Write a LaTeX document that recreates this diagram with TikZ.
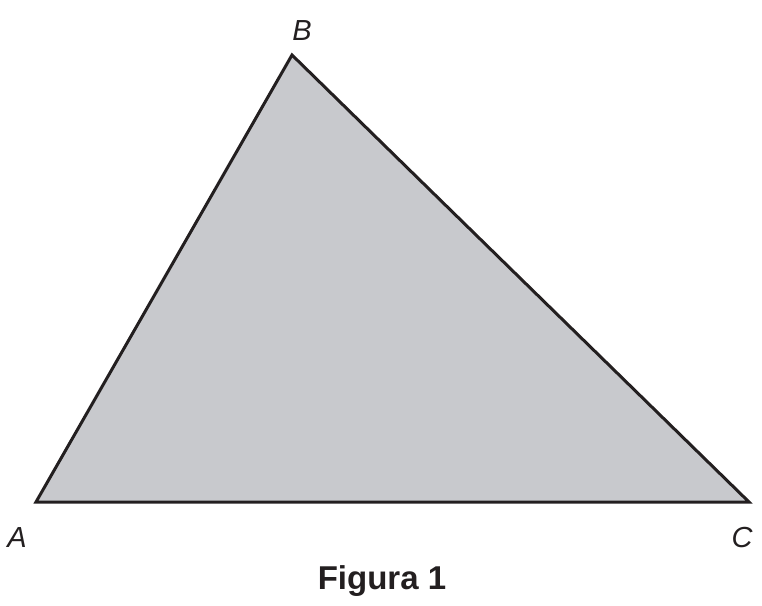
\documentclass[tikz,border=0pt]{standalone}
\usepackage{fontspec}
\setmainfont{Liberation Sans}
\definecolor{trifill}{RGB}{200,201,205}
\definecolor{ink}{RGB}{35,31,32}
\begin{document}
\begin{tikzpicture}[x=1pt,y=-1pt,
  vlabel/.style={font=\fontsize{29}{31}\selectfont\itshape,text=ink,inner sep=0pt,anchor=base},
  caption/.style={font=\fontsize{33}{35}\selectfont\bfseries,text=ink,inner sep=0pt,anchor=base}]
\useasboundingbox (0,0) rectangle (762,605);
\coordinate (A) at (36,502);
\coordinate (B) at (292,55);
\coordinate (C) at (749,502);
\filldraw[fill=trifill,draw=ink,line width=3pt,line join=miter] (A) -- (B) -- (C) -- cycle;
\node[vlabel] (lB) at (302,40) {B};
\node[vlabel] (lA) at (17,547) {A};
\node[vlabel] (lC) at (742,547) {C};
\node[caption] (cap) at (382,589) {Figura 1};
\end{tikzpicture}
\end{document}
